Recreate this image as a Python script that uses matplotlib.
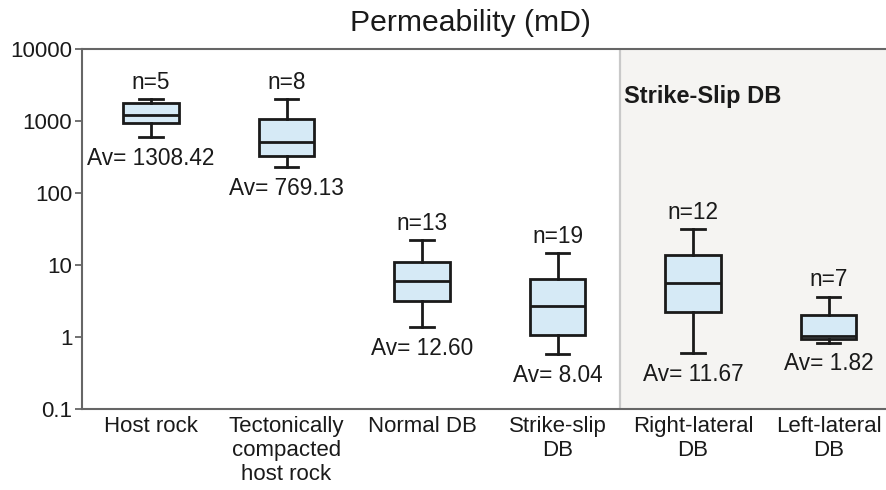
import matplotlib
matplotlib.use("Agg")
import matplotlib.pyplot as plt
from matplotlib.ticker import FixedLocator, FixedFormatter, NullLocator

plt.rcParams['font.family'] = ['Liberation Sans', 'DejaVu Sans']

categories = ["Host rock", "Tectonically\ncompacted\nhost rock", "Normal DB",
              "Strike-slip\nDB", "Right-lateral\nDB", "Left-lateral\nDB"]
whisker_low = [594, 228, 1.36, 0.58, 0.59, 0.83]
q1 = [929, 327, 3.2, 1.05, 2.2, 0.95]
median = [1200, 511, 6.0, 2.72, 5.6, 1.03]
q3 = [1762, 1057, 11.1, 6.3, 13.6, 2.04]
whisker_high = [2020, 2000, 22.2, 14.5, 31.3, 3.6]
n_counts = [5, 8, 13, 19, 12, 7]
averages = ["1308.42", "769.13", "12.60", "8.04", "11.67", "1.82"]
y_ticks = [0.1, 1, 10, 100, 1000, 10000]
y_tick_labels = ["0.1", "1", "10", "100", "1000", "10000"]
title = "Permeability (mD)"
group_label = "Strike-Slip DB"

fig = plt.figure(figsize=(8.86, 4.9), dpi=100)
ax = fig.add_axes([82/886, 1-409/490, 1-82/886, (409-49)/490])

positions = list(range(1, len(categories) + 1))
stats = []
for i in range(len(categories)):
    stats.append(dict(med=median[i], q1=q1[i], q3=q3[i],
                      whislo=whisker_low[i], whishi=whisker_high[i],
                      fliers=[], label=categories[i]))

shade_start = 4.461
ax.axvspan(shade_start, 6.5, color='#f5f4f2', zorder=0, lw=0)
ax.axvline(shade_start, color='#c9c9c9', lw=1.6, zorder=1)

edge = '#1a1a1a'
ax.bxp(stats, positions=positions, widths=0.413, capwidths=0.17,
       showfliers=False, patch_artist=True,
       boxprops=dict(facecolor='#d6eaf6', edgecolor=edge, linewidth=2.0),
       medianprops=dict(color=edge, linewidth=2.0),
       whiskerprops=dict(color=edge, linewidth=2.0),
       capprops=dict(color=edge, linewidth=2.0), zorder=3)

ax.set_yscale('log')
ax.set_ylim(0.1, 10000)
ax.set_xlim(1 - 69/135.5, 1 + 735/135.5)
ax.yaxis.set_major_locator(FixedLocator(y_ticks))
ax.yaxis.set_major_formatter(FixedFormatter(y_tick_labels))
ax.yaxis.set_minor_locator(NullLocator())
ax.set_xticks(positions)
ax.set_xticklabels(categories, fontsize=16, linespacing=1.2, color='#1a1a1a')
ax.tick_params(axis='x', length=0, pad=5)
ax.tick_params(axis='y', length=5, width=1.3, color='#666666', pad=2,
               labelsize=16, labelcolor='#1a1a1a')

for side in ['left', 'bottom', 'top']:
    ax.spines[side].set_color('#666666')
    ax.spines[side].set_linewidth(1.5)
ax.spines['right'].set_visible(False)

for i, p in enumerate(positions):
    ax.annotate(f"n={n_counts[i]}", (p, whisker_high[i]), xytext=(0, 17),
                textcoords='offset pixels', ha='center', va='center',
                fontsize=16.3, color='#1a1a1a')
    ax.annotate(f"Av= {averages[i]}", (p, whisker_low[i]), xytext=(0, -21),
                textcoords='offset pixels', ha='center', va='center',
                fontsize=16.3, color='#1a1a1a')

ax.text((703-82)/804, (409-97)/360, group_label, transform=ax.transAxes,
        ha='center', va='center', fontsize=17, fontweight='bold', color='#1a1a1a')

fig.text(470/886, 1-23/490, title, ha='center', va='center', fontsize=21.7, color='#1a1a1a')

fig.savefig('out.png', dpi=100)
